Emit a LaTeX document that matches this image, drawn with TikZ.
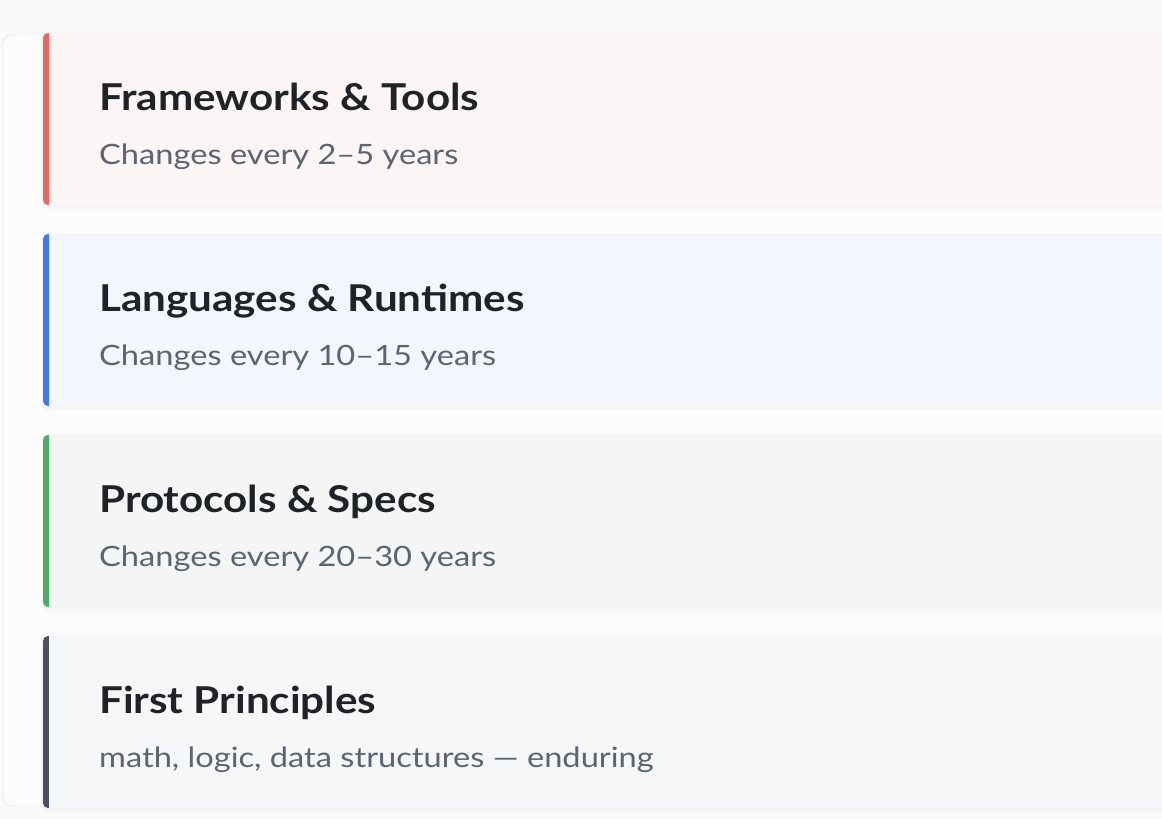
\documentclass[tikz,border=0pt]{standalone}
\usepackage{fontspec}
\setmainfont{Lato}
\newfontfamily\headfont[FakeStretch=1.14]{Lato}
\newfontfamily\notefont[FakeStretch=1.165]{Lato}
\usepackage{xcolor}

\definecolor{pagebg}{HTML}{FAFAFA}
\definecolor{panelline}{HTML}{DADDE2}
\definecolor{cardline}{HTML}{E2E2E4}
\definecolor{titlecol}{HTML}{1F2226}
\definecolor{subcol}{HTML}{5B6470}
\definecolor{barA}{HTML}{F0665F}
\definecolor{barB}{HTML}{3B7CF6}
\definecolor{barC}{HTML}{4CAD66}
\definecolor{barD}{HTML}{4B5360}
\definecolor{fillA}{HTML}{FCF5F5}
\definecolor{fillB}{HTML}{F3F6FC}
\definecolor{fillC}{HTML}{F3F6F4}
\definecolor{fillD}{HTML}{F6F7F9}

\begin{document}
\begin{tikzpicture}[x=1pt,y=-1pt,
    cardtitle/.style={anchor=base west,inner sep=0pt,text=titlecol,
      font=\headfont\fontsize{37}{40}\selectfont\bfseries},
    cardsub/.style={anchor=base west,inner sep=0pt,text=subcol,
      font=\notefont\fontsize{28}{32}\selectfont}]
    \useasboundingbox[fill=pagebg] (0,0) rectangle (1162,819);
    \clip (0,0) rectangle (1162,819);

    % outer panel, runs off to the right
    \draw[draw=panelline,fill=pagebg!60!white,rounded corners=8pt]
    (1200,35) -- (3,35) -- (3,806) -- (1200,806);

    \foreach \i/\bar/\bg/\head/\note in {
      0/barA/fillA/{Frameworks \& Tools}/{Changes every 2–5 years},
      1/barB/fillB/{Languages \& Runtimes}/{Changes every 10–15 years},
      2/barC/fillC/{Protocols \& Specs}/{Changes every 20–30 years},
      3/barD/fillD/{First Principles}/{math, logic, data structures — enduring}}
    {
      \pgfmathsetmacro\top{33+201*\i}
      % soft shadow
      \fill[black,opacity=0.025,rounded corners=6pt]
      (41,\top+1) rectangle (1200,\top+176);
      \filldraw[draw=cardline,fill=\bg,rounded corners=5pt]
      (43,\top) rectangle (1200,\top+172);
      \begin{scope}
        \clip[rounded corners=5pt] (43,\top) rectangle (1200,\top+172);
        \fill[\bar] (43,\top) rectangle (49,\top+172);
      \end{scope}
      \node[cardtitle] (title\i) at (99,\top+77) {\head};
      \node[cardsub] (sub\i) at (99,\top+131) {\note};
    }
\end{tikzpicture}
\end{document}
